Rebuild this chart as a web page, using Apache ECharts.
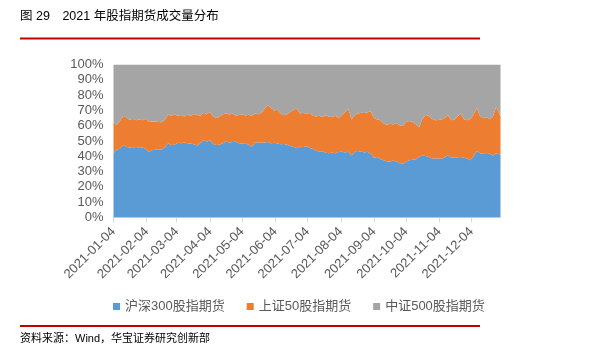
<!DOCTYPE html>
<html><head><meta charset="utf-8">
<script src="https://cdn.jsdelivr.net/npm/echarts@6/dist/echarts.min.js"></script>
<style>html,body{margin:0;padding:0;background:#fff}#c{width:604px;height:356px}</style>
</head><body><div id="c"></div>
<script>
var dates = ['2021-01-04','2021-01-07','2021-01-10','2021-01-13','2021-01-16','2021-01-19','2021-01-22','2021-01-25','2021-01-28','2021-01-31',
'2021-02-03','2021-02-06','2021-02-09','2021-02-12','2021-02-15','2021-02-18','2021-02-21','2021-02-24','2021-02-27',
'2021-03-02','2021-03-05','2021-03-08','2021-03-11','2021-03-14','2021-03-17','2021-03-20','2021-03-23','2021-03-26','2021-03-29',
'2021-04-01','2021-04-04','2021-04-07','2021-04-10','2021-04-13','2021-04-16','2021-04-19','2021-04-22','2021-04-25','2021-04-28',
'2021-05-01','2021-05-04','2021-05-07','2021-05-10','2021-05-13','2021-05-16','2021-05-19','2021-05-22','2021-05-25','2021-05-28','2021-05-31',
'2021-06-03','2021-06-06','2021-06-09','2021-06-12','2021-06-15','2021-06-18','2021-06-21','2021-06-24','2021-06-27','2021-06-30',
'2021-07-03','2021-07-06','2021-07-09','2021-07-12','2021-07-15','2021-07-18','2021-07-21','2021-07-24','2021-07-27','2021-07-30',
'2021-08-02','2021-08-05','2021-08-08','2021-08-11','2021-08-14','2021-08-17','2021-08-20','2021-08-23','2021-08-26','2021-08-29',
'2021-09-01','2021-09-04','2021-09-07','2021-09-10','2021-09-13','2021-09-16','2021-09-19','2021-09-22','2021-09-25','2021-09-28',
'2021-10-01','2021-10-04','2021-10-07','2021-10-10','2021-10-13','2021-10-16','2021-10-19','2021-10-22','2021-10-25','2021-10-28','2021-10-31',
'2021-11-03','2021-11-06','2021-11-09','2021-11-12','2021-11-15','2021-11-18','2021-11-21','2021-11-24','2021-11-27','2021-11-30',
'2021-12-03','2021-12-06','2021-12-09','2021-12-12','2021-12-15','2021-12-18','2021-12-21','2021-12-24','2021-12-27','2021-12-31'];

var hs300 = [42,44.5,45,47.4,46,45.7,45.5,46.2,45.5,45.8,
45,43,44,44.2,44.3,44.5,46,48.5,47.4,
47.6,48.9,48.5,49,48.6,48.3,47.8,47,48.6,50.7,
49.5,50.5,48,47.4,47.6,48.5,49.6,49,49.4,49.5,
48.5,48.2,48.7,47.5,46.3,49,49.2,48.8,49,49.3,48.5,
48.8,48.3,47.8,48,47.5,46.8,46,45.2,46.3,46,
46.5,45.5,45,43.8,43,43.3,42.3,42,42.5,42,
42.8,43,42.5,43,40.5,43,42.8,43.2,42.5,43,
41.5,39,39.5,38.3,37.5,36.8,36.5,37.2,36.6,35.5,
35.2,36.5,37.5,37.8,38,39.5,40.5,40.2,39.5,38.8,38.5,
38.8,38.3,39.5,40.5,39.2,39,39.3,39.5,39,38.5,
37.5,40,43.5,42,41.5,42.3,41.5,40.5,42,41];

var sz50 = [20.5,16,18,19,19.5,18.1,19,17.3,18.7,17.7,
19.5,19.5,18.8,18.5,18.2,17.7,18,18.7,19.1,
19.7,17.6,18.5,17,18.7,18,19.8,20,17.9,17.8,
18,18.5,18,17.6,18.2,19,18.4,18.3,18.6,17,
18.5,19.3,18,19.7,20.2,19,18.3,19.7,22,24.3,23,
21.2,22.2,20.2,18.8,20,22.2,24.5,26,21.7,22.5,
21.1,22.8,21.5,22.2,23.5,22.2,24.5,24,23,24.5,
22.2,24,26.5,28,23.5,24,25.2,25.3,25.8,25.8,
28,26,24.5,25.2,24,23.7,24.7,23.6,25.2,24.7,
24.6,26,25.5,24.7,23,19.3,23.5,26.8,27,25.7,25,
25,25.7,25.5,26.5,24.3,25,26.7,28.5,25,25,
27,27.5,28,24,23.3,23.2,22.7,25.5,30.5,25];

var zz500 = [37.5,39.5,37,33.6,34.5,36.2,35.5,36.5,35.8,36.5,
35.5,37.5,37.2,37.3,37.5,37.8,36,32.8,33.5,
32.7,33.5,33,34,32.7,33.7,32.4,33,33.5,31.5,
32.5,31,34,35,34.2,32.5,32,32.7,32,33.5,
33,32.5,33.3,32.8,33.5,32,32.5,31.5,29,26.4,28.5,
30,29.5,32,33.2,32.5,31,29.5,28.8,32,31.5,
32.4,31.7,33.5,34,33.5,34.5,33.2,34,34.5,33.5,
35,33,31,29,36,33,32,31.5,31.7,31.2,
30.5,35,36,36.5,38.5,39.5,38.8,39.2,38.2,39.8,
40.2,37.5,37,37.5,39,41.2,36,33,33.5,35.5,36.5,
36.2,36,35,33,36.5,36,34,32,36,36.5,
35.5,32.5,28.5,34,35.2,34.5,35.8,34,27.5,34];

var seriesNames = ['沪深300股指期货','上证50股指期货','中证500股指期货'];
var colors = ['#5B9BD5','#ED7D31','#A5A5A5'];
var tickDates = ['2021-01-04','2021-02-04','2021-03-04','2021-04-04','2021-05-04','2021-06-04','2021-07-04','2021-08-04','2021-09-04','2021-10-04','2021-11-04','2021-12-04'];
var startDate = '2021-01-04', endDate = '2021-12-31';

var DAY = 86400000;
function utc(s){var p=s.split('-');return Date.UTC(+p[0],+p[1]-1,+p[2]);}
function dayIdx(s){return Math.round((utc(s)-utc(startDate))/DAY);}
function pad(n){return (n<10?'0':'')+n;}
function fmt(v){var d=new Date(utc(startDate)+Math.round(v)*DAY);return d.getUTCFullYear()+'-'+pad(d.getUTCMonth()+1)+'-'+pad(d.getUTCDate());}

var vals = [hs300, sz50, zz500];
var series = seriesNames.map(function(name,i){
  return {
    name:name, type:'line', stack:'total', xAxisIndex:0, showSymbol:false, symbol:'none',
    lineStyle:{width:0}, areaStyle:{color:colors[i], opacity:1}, itemStyle:{color:colors[i]},
    data: dates.map(function(d,j){return [utc(d), vals[i][j]];})
  };
});
var tickVals = tickDates.map(dayIdx);
var FONT = '"Liberation Sans","Noto Sans CJK SC",Arial,sans-serif';

var chart = echarts.init(document.getElementById('c'), null, {useUTC:true});
chart.setOption({
  animation:false,
  useUTC:true,
  color:colors,
  textStyle:{fontFamily:FONT},
  grid:{left:113.5,right:103.5,top:64.5,bottom:138.5,containLabel:false},
  xAxis:[{
    type:'time', min:utc(startDate), max:utc(endDate), position:'bottom',
    splitLine:{show:false}, axisLine:{show:false}, axisTick:{show:false}, axisLabel:{show:false}
  },{
    type:'value', min:0, max:dayIdx(endDate), position:'bottom', offset:0,
    splitLine:{show:false},
    axisLine:{show:true,onZero:false,lineStyle:{color:'#D9D9D9',width:1}},
    axisTick:{show:true,length:5,lineStyle:{color:'#D9D9D9'},customValues:tickVals},
    axisLabel:{customValues:tickVals,rotate:45,margin:12,color:'#595959',fontSize:13,fontFamily:FONT,
      formatter:function(v){return fmt(v);}, hideOverlap:false}
  }],
  yAxis:{
    type:'value', min:0, max:100, interval:10,
    splitLine:{show:false}, axisLine:{show:false}, axisTick:{show:false},
    axisLabel:{formatter:'{value}%',color:'#595959',fontSize:13,fontFamily:FONT,margin:10}
  },
  legend:{
    data:seriesNames, left:108, top:295, icon:'rect', itemWidth:7, itemHeight:7, itemGap:22,
    textStyle:{color:'#595959',fontSize:13,fontFamily:FONT}
  },
  graphic:[
    {type:'text',left:20,top:10,style:{text:'图 29　2021 年股指期货成交量分布',fill:'#000',font:'12.5px '+FONT}},
    {type:'rect',shape:{x:20,y:37.5,width:460,height:2},style:{fill:'#C00000'}},
    {type:'rect',shape:{x:20,y:325,width:460,height:2},style:{fill:'#C00000'}},
    {type:'text',left:20,top:333,style:{text:'资料来源：Wind，华宝证券研究创新部',fill:'#000',font:'11px '+FONT}}
  ],
  series:series
});
</script></body></html>
